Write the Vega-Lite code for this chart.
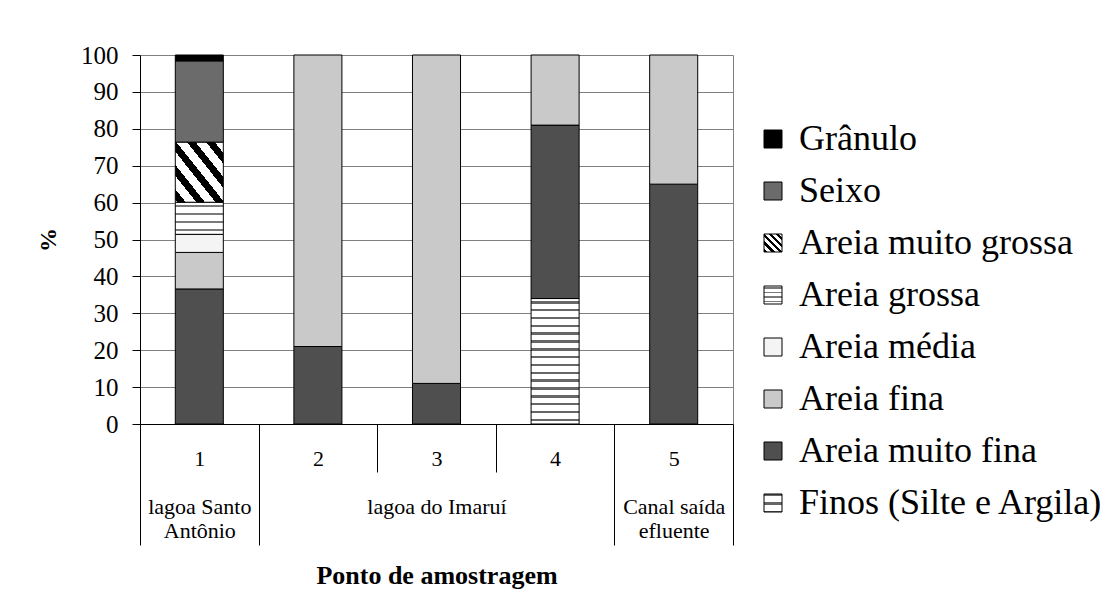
{
  "$schema": "https://vega.github.io/schema/vega-lite/v6.json",
  "width": 593,
  "height": 369,
  "autosize": "none",
  "padding": {"left": 140, "top": 55, "right": 373, "bottom": 184},
  "background": "white",
  "config": {
    "view": {"stroke": null},
    "font": "Liberation Serif"
  },
  "data": {
    "values": [
      {"ponto": "1", "classe": "Finos (Silte e Argila)", "ordem": 1, "pct": 0},
      {"ponto": "1", "classe": "Areia muito fina", "ordem": 2, "pct": 36.6},
      {"ponto": "1", "classe": "Areia fina", "ordem": 3, "pct": 9.9},
      {"ponto": "1", "classe": "Areia média", "ordem": 4, "pct": 4.9},
      {"ponto": "1", "classe": "Areia grossa", "ordem": 5, "pct": 8.7},
      {"ponto": "1", "classe": "Areia muito grossa", "ordem": 6, "pct": 16.3},
      {"ponto": "1", "classe": "Seixo", "ordem": 7, "pct": 22.0},
      {"ponto": "1", "classe": "Grânulo", "ordem": 8, "pct": 1.6},
      {"ponto": "2", "classe": "Areia muito fina", "ordem": 2, "pct": 21},
      {"ponto": "2", "classe": "Areia fina", "ordem": 3, "pct": 79},
      {"ponto": "3", "classe": "Areia muito fina", "ordem": 2, "pct": 11},
      {"ponto": "3", "classe": "Areia fina", "ordem": 3, "pct": 89},
      {"ponto": "4", "classe": "Finos (Silte e Argila)", "ordem": 1, "pct": 34},
      {"ponto": "4", "classe": "Areia muito fina", "ordem": 2, "pct": 47},
      {"ponto": "4", "classe": "Areia fina", "ordem": 3, "pct": 19},
      {"ponto": "5", "classe": "Areia muito fina", "ordem": 2, "pct": 65},
      {"ponto": "5", "classe": "Areia fina", "ordem": 3, "pct": 35}
    ]
  },
  "mark": {"type": "bar", "width": {"band": 0.405}, "stroke": "black", "strokeWidth": 1},
  "encoding": {
    "x": {
      "field": "ponto",
      "type": "nominal",
      "scale": {"paddingInner": 0, "paddingOuter": 0},
      "axis": {
        "title": "Ponto de amostragem",
        "titleFont": "Liberation Serif",
        "titleFontSize": 26,
        "titleFontWeight": "bold",
        "titleColor": "black",
        "titlePadding": 17,
        "labelAngle": 0,
        "labelFont": "Liberation Serif",
        "labelFontSize": 22,
        "labelColor": "black",
        "labelLineHeight": 24,
        "labelExpr": "datum.value == '1' ? ['1', '\u2800', 'lagoa Santo', 'Antônio'] : datum.value == '3' ? ['3', '\u2800', 'lagoa do Imaruí'] : datum.value == '5' ? ['5', '\u2800', 'Canal saída', 'efluente'] : datum.label",
        "tickBand": "extent",
        "tickColor": "black",
        "tickSize": {"condition": {"test": "datum.value == '2' || datum.value == '3'", "value": 48}, "value": 121},
        "labelPadding": {"condition": {"test": "datum.value == '2' || datum.value == '3'", "value": -24}, "value": -97},
        "domainColor": "black",
        "grid": true,
        "gridColor": "#808080",
        "gridOpacity": {"condition": {"test": "datum.value == '5'", "value": 1}, "value": 0}
      }
    },
    "y": {
      "field": "pct",
      "type": "quantitative",
      "stack": "zero",
      "scale": {"domain": [0, 100], "nice": false},
      "axis": {
        "title": "%",
        "titleFont": "Liberation Serif",
        "titleFontSize": 24,
        "titleFontWeight": "bold",
        "titleColor": "black",
        "titlePadding": 20,
        "values": [0, 10, 20, 30, 40, 50, 60, 70, 80, 90, 100],
        "labelFont": "Liberation Serif",
        "labelFontSize": 25,
        "labelColor": "black",
        "labelPadding": 14,
        "tickSize": 8,
        "tickColor": "black",
        "domainColor": "black",
        "grid": true,
        "gridColor": "#808080"
      }
    },
    "order": {"field": "ordem", "type": "quantitative", "sort": "ascending"},
    "fill": {
      "field": "classe",
      "type": "nominal",
      "scale": {
        "domain": ["Grânulo", "Seixo", "Areia muito grossa", "Areia grossa", "Areia média", "Areia fina", "Areia muito fina", "Finos (Silte e Argila)"],
        "range": [
          "#000000",
          "#6b6b6b",
          {"expr": "{gradient: 'linear', x1: 0, y1: 1, x2: 1, y2: 0, stops: [{offset: 0, color: '#ffffff'}, {offset: 0.02, color: '#ffffff'}, {offset: 0.02, color: '#000000'}, {offset: 0.11, color: '#000000'}, {offset: 0.11, color: '#ffffff'}, {offset: 0.22, color: '#ffffff'}, {offset: 0.22, color: '#000000'}, {offset: 0.31, color: '#000000'}, {offset: 0.31, color: '#ffffff'}, {offset: 0.42, color: '#ffffff'}, {offset: 0.42, color: '#000000'}, {offset: 0.51, color: '#000000'}, {offset: 0.51, color: '#ffffff'}, {offset: 0.62, color: '#ffffff'}, {offset: 0.62, color: '#000000'}, {offset: 0.71, color: '#000000'}, {offset: 0.71, color: '#ffffff'}, {offset: 0.82, color: '#ffffff'}, {offset: 0.82, color: '#000000'}, {offset: 0.91, color: '#000000'}, {offset: 0.91, color: '#ffffff'}, {offset: 1, color: '#ffffff'}]}"},
          {"expr": "{gradient: 'linear', x1: 0, y1: 0, x2: 0, y2: 1, stops: [{offset: 0, color: '#ffffff'}, {offset: 0.08, color: '#ffffff'}, {offset: 0.08, color: '#7a7a7a'}, {offset: 0.16, color: '#7a7a7a'}, {offset: 0.16, color: '#ffffff'}, {offset: 0.33, color: '#ffffff'}, {offset: 0.33, color: '#7a7a7a'}, {offset: 0.41, color: '#7a7a7a'}, {offset: 0.41, color: '#ffffff'}, {offset: 0.58, color: '#ffffff'}, {offset: 0.58, color: '#7a7a7a'}, {offset: 0.66, color: '#7a7a7a'}, {offset: 0.66, color: '#ffffff'}, {offset: 0.83, color: '#ffffff'}, {offset: 0.83, color: '#7a7a7a'}, {offset: 0.91, color: '#7a7a7a'}, {offset: 0.91, color: '#ffffff'}, {offset: 1, color: '#ffffff'}]}"},
          "#f4f4f4",
          "#c9c9c9",
          "#4f4f4f",
          {"expr": "{gradient: 'linear', x1: 0, y1: 0, x2: 0, y2: 1, stops: [{offset: 0, color: '#ffffff'}, {offset: 0.02, color: '#ffffff'}, {offset: 0.02, color: '#666666'}, {offset: 0.04, color: '#666666'}, {offset: 0.04, color: '#ffffff'}, {offset: 0.0825, color: '#ffffff'}, {offset: 0.0825, color: '#666666'}, {offset: 0.1025, color: '#666666'}, {offset: 0.1025, color: '#ffffff'}, {offset: 0.145, color: '#ffffff'}, {offset: 0.145, color: '#666666'}, {offset: 0.165, color: '#666666'}, {offset: 0.165, color: '#ffffff'}, {offset: 0.2075, color: '#ffffff'}, {offset: 0.2075, color: '#666666'}, {offset: 0.2275, color: '#666666'}, {offset: 0.2275, color: '#ffffff'}, {offset: 0.27, color: '#ffffff'}, {offset: 0.27, color: '#666666'}, {offset: 0.29, color: '#666666'}, {offset: 0.29, color: '#ffffff'}, {offset: 0.3325, color: '#ffffff'}, {offset: 0.3325, color: '#666666'}, {offset: 0.3525, color: '#666666'}, {offset: 0.3525, color: '#ffffff'}, {offset: 0.395, color: '#ffffff'}, {offset: 0.395, color: '#666666'}, {offset: 0.415, color: '#666666'}, {offset: 0.415, color: '#ffffff'}, {offset: 0.4575, color: '#ffffff'}, {offset: 0.4575, color: '#666666'}, {offset: 0.4775, color: '#666666'}, {offset: 0.4775, color: '#ffffff'}, {offset: 0.52, color: '#ffffff'}, {offset: 0.52, color: '#666666'}, {offset: 0.54, color: '#666666'}, {offset: 0.54, color: '#ffffff'}, {offset: 0.5825, color: '#ffffff'}, {offset: 0.5825, color: '#666666'}, {offset: 0.6025, color: '#666666'}, {offset: 0.6025, color: '#ffffff'}, {offset: 0.645, color: '#ffffff'}, {offset: 0.645, color: '#666666'}, {offset: 0.665, color: '#666666'}, {offset: 0.665, color: '#ffffff'}, {offset: 0.7075, color: '#ffffff'}, {offset: 0.7075, color: '#666666'}, {offset: 0.7275, color: '#666666'}, {offset: 0.7275, color: '#ffffff'}, {offset: 0.77, color: '#ffffff'}, {offset: 0.77, color: '#666666'}, {offset: 0.79, color: '#666666'}, {offset: 0.79, color: '#ffffff'}, {offset: 0.8325, color: '#ffffff'}, {offset: 0.8325, color: '#666666'}, {offset: 0.8525, color: '#666666'}, {offset: 0.8525, color: '#ffffff'}, {offset: 0.895, color: '#ffffff'}, {offset: 0.895, color: '#666666'}, {offset: 0.915, color: '#666666'}, {offset: 0.915, color: '#ffffff'}, {offset: 0.9575, color: '#ffffff'}, {offset: 0.9575, color: '#666666'}, {offset: 0.9775, color: '#666666'}, {offset: 0.9775, color: '#ffffff'}, {offset: 1, color: '#ffffff'}]}"}
        ]
      },
      "legend": {
        "title": null,
        "orient": "none",
        "legendX": 615,
        "legendY": 66,
        "symbolType": "square",
        "symbolSize": 324,
        "symbolStrokeColor": "black",
        "symbolStrokeWidth": 1,
        "symbolOpacity": 1,
        "labelFont": "Liberation Serif",
        "labelFontSize": 36,
        "labelColor": "black",
        "labelOffset": 8,
        "labelLimit": 400,
        "rowPadding": 16
      }
    }
  }
}
